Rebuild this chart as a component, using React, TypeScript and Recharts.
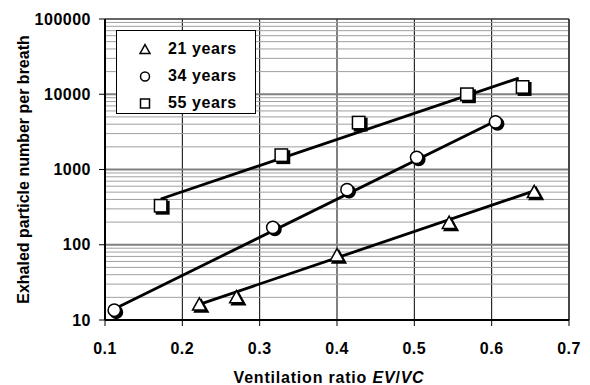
import React from "react"
import {
  ComposedChart, Line, Scatter, XAxis, YAxis, CartesianGrid, ReferenceLine,
} from "recharts"

// measured points (x = EV/VC, y = particles per breath)
const X_21 = [0.222, 0.27, 0.40, 0.545, 0.655]
const Y_21 = [16, 20, 72, 195, 500]
const X_34 = [0.112, 0.317, 0.413, 0.503, 0.605]
const Y_34 = [13.5, 170, 540, 1450, 4300]
const X_55 = [0.172, 0.328, 0.428, 0.568, 0.64]
const Y_55 = [330, 1550, 4200, 10000, 12500]

// fitted trend lines (end points)
const FIT_X_21 = [0.225, 0.655]
const FIT_Y_21 = [16.5, 520]
const FIT_X_34 = [0.112, 0.605]
const FIT_Y_34 = [14, 4400]
const FIT_X_55 = [0.172, 0.635]
const FIT_Y_55 = [405, 16400]

const X_TICKS = [0.1, 0.2, 0.3, 0.4, 0.5, 0.6, 0.7]
const Y_TICKS = [10, 100, 1000, 10000, 100000]
const MINOR_STEPS = [2, 3, 4, 5, 6, 7, 8, 9]
const MINOR_VALUES = Y_TICKS.slice(0, -1).flatMap(d => MINOR_STEPS.map(m => d * m))

const pts = (xs: number[], ys: number[]) => xs.map((x, i) => ({ x, y: ys[i] }))

const FONT = "'Liberation Sans', Arial, sans-serif"

type Kind = "tri" | "cir" | "sq"

function glyph(kind: Kind, cx: number, cy: number, r: number, fill: string, stroke: string) {
  if (kind === "cir") return <circle cx={cx} cy={cy} r={r} fill={fill} stroke={stroke} strokeWidth={1.5} />
  if (kind === "sq") return <rect x={cx - r} y={cy - r} width={r * 2} height={r * 2} fill={fill} stroke={stroke} strokeWidth={1.5} />
  const h = r * 1.1
  return (
    <polygon
      points={`${cx},${cy - h} ${cx + r * 1.1},${cy + h * 0.8} ${cx - r * 1.1},${cy + h * 0.8}`}
      fill={fill} stroke={stroke} strokeWidth={1.5} strokeLinejoin="miter"
    />
  )
}

const marker = (kind: Kind) => (props: any) => {
  const { cx, cy } = props
  const r = 6.2
  return (
    <g>
      {glyph(kind, cx + 2, cy + 2, r, "#000", "#000")}
      {glyph(kind, cx, cy, r, "#fff", "#000")}
    </g>
  )
}

const XLabel = (props: any) => {
  const vb = props.viewBox
  return (
    <text x={vb.x + vb.width / 2 - 8} y={383} textAnchor="middle"
      style={{ fontFamily: FONT, fontSize: 16, fontWeight: 700, letterSpacing: 0.8 }} fill="#000">
      Ventilation ratio <tspan fontStyle="italic">EV</tspan>/<tspan fontStyle="italic">VC</tspan>
    </text>
  )
}

const YLabel = (props: any) => {
  const vb = props.viewBox
  const cy = vb.y + vb.height / 2
  return (
    <text x={29} y={cy} textAnchor="middle" transform={`rotate(-90, 29, ${cy})`}
      style={{ fontFamily: FONT, fontSize: 16, fontWeight: 700 }} fill="#000">
      Exhaled particle number per breath
    </text>
  )
}

const LEGEND: { kind: Kind; label: string }[] = [
  { kind: "tri", label: "21 years" },
  { kind: "cir", label: "34 years" },
  { kind: "sq", label: "55 years" },
]

const tickStyle = { fill: "#000", fontSize: 16, fontWeight: 700, fontFamily: FONT, letterSpacing: 0.5 }

export default function App() {
  return (
    <div style={{ position: "absolute", left: 0, top: 0, width: 590, height: 385, background: "#fff", fontFamily: FONT }}>
      <ComposedChart width={590} height={385} margin={{ top: 19, right: 21, bottom: 35, left: 0 }}>
        <CartesianGrid horizontal={false} vertical={true} stroke="#000" strokeWidth={1} />
        {MINOR_VALUES.map(v => (
          <ReferenceLine key={v} y={v} stroke="#a0a0a0" strokeWidth={1} />
        ))}
        {Y_TICKS.slice(1, -1).map(v => (
          <ReferenceLine key={`M${v}`} y={v} stroke="#808080" strokeWidth={2} />
        ))}
        <XAxis
          type="number" dataKey="x" domain={[0.1, 0.7]} ticks={X_TICKS} allowDataOverflow
          height={30}
          tickFormatter={(v) => v.toFixed(1)}
          axisLine={{ stroke: "#000", strokeWidth: 2 }}
          tickLine={{ stroke: "#000" }} tickSize={6} tickMargin={17}
          tick={tickStyle}
          label={<XLabel />}
        />
        <YAxis
          type="number" dataKey="y" scale="log" domain={[10, 100000]} ticks={Y_TICKS} allowDataOverflow
          width={105}
          axisLine={{ stroke: "#000", strokeWidth: 2 }}
          tickLine={{ stroke: "#000" }} tickSize={6} tickMargin={8}
          tick={tickStyle}
          label={<YLabel />}
        />
        <ReferenceLine x={0.7} stroke="#333" strokeWidth={1.5} />
        <ReferenceLine y={100000} stroke="#333" strokeWidth={1.5} />

        <Line data={pts(FIT_X_21, FIT_Y_21)} dataKey="y" stroke="#000" strokeWidth={2.8} dot={false} isAnimationActive={false} />
        <Line data={pts(FIT_X_34, FIT_Y_34)} dataKey="y" stroke="#000" strokeWidth={2.8} dot={false} isAnimationActive={false} />
        <Line data={pts(FIT_X_55, FIT_Y_55)} dataKey="y" stroke="#000" strokeWidth={2.8} dot={false} isAnimationActive={false} />

        <Scatter data={pts(X_21, Y_21)} dataKey="y" shape={marker("tri")} isAnimationActive={false} />
        <Scatter data={pts(X_34, Y_34)} dataKey="y" shape={marker("cir")} isAnimationActive={false} />
        <Scatter data={pts(X_55, Y_55)} dataKey="y" shape={marker("sq")} isAnimationActive={false} />
      </ComposedChart>

      {/* Legend box */}
      <div style={{
        position: "absolute", left: 116, top: 30, width: 138, height: 82,
        border: "1px solid #000", background: "#fff", boxSizing: "content-box",
      }}>
        {LEGEND.map((d, i) => (
          <div key={d.kind} style={{ position: "absolute", left: 22, top: 8 + i * 27, height: 20, display: "flex", alignItems: "center" }}>
            <svg width={12} height={12} style={{ marginRight: 17 }}>
              {glyph(d.kind, 6, 6.5, 4.5, "#fff", "#000")}
            </svg>
            <span style={{ fontSize: 16, fontWeight: 700, letterSpacing: 0.6, color: "#000" }}>{d.label}</span>
          </div>
        ))}
      </div>
    </div>
  )
}
